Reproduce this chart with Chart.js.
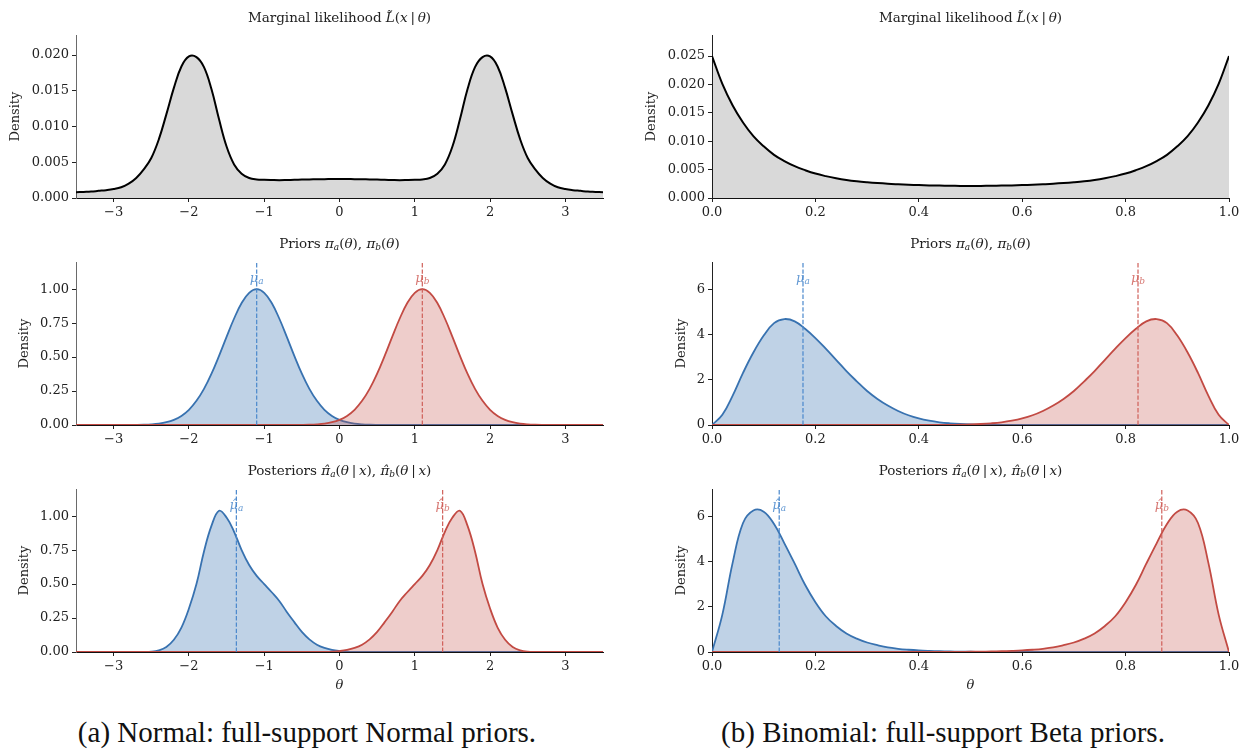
<!DOCTYPE html>
<html lang="en">
<head>
<meta charset="UTF-8">
<title>Marginal likelihood, priors and posteriors</title>
<script src="https://cdn.jsdelivr.net/npm/chart.js"></script>
<style>
  body { margin: 0; background: #fff; }
  #page { position: relative; width: 1250px; height: 750px; font-family: "DejaVu Serif", serif; color: #222; }
  canvas { position: absolute; }
  .ptitle { position: absolute; text-align: center; font-size: 13.5px; line-height: 16px; white-space: nowrap; }
  .ptitle sub { font-size: 9px; font-style: italic; vertical-align: -2px; line-height: 0; }
  .caption { position: absolute; width: 614px; text-align: center; font-family: "Liberation Serif", serif; font-size: 29px; line-height: 32px; color: #111; }
</style>
</head>
<body>
<div id="page">
  <canvas id="nMarg" width="623" height="211" style="left:0px;top:21px"></canvas>
  <canvas id="bMarg" width="619" height="211" style="left:630px;top:21px"></canvas>
  <canvas id="nPrior" width="623" height="211" style="left:0px;top:248px"></canvas>
  <canvas id="bPrior" width="619" height="211" style="left:630px;top:248px"></canvas>
  <canvas id="nPost" width="623" height="227" style="left:0px;top:475px"></canvas>
  <canvas id="bPost" width="619" height="227" style="left:630px;top:475px"></canvas>

  <div class="ptitle" style="left:76px;width:527px;top:9px">Marginal likelihood <i>L&#x303;</i>(<i>x</i>&#8201;|&#8201;<i>θ</i>)</div>
  <div class="ptitle" style="left:712px;width:517px;top:9px">Marginal likelihood <i>L&#x303;</i>(<i>x</i>&#8201;|&#8201;<i>θ</i>)</div>
  <div class="ptitle" style="left:76px;width:527px;top:235px">Priors <i>π</i><sub>a</sub>(<i>θ</i>), <i>π</i><sub>b</sub>(<i>θ</i>)</div>
  <div class="ptitle" style="left:712px;width:517px;top:235px">Priors <i>π</i><sub>a</sub>(<i>θ</i>), <i>π</i><sub>b</sub>(<i>θ</i>)</div>
  <div class="ptitle" style="left:76px;width:527px;top:462px">Posteriors <i>π&#x302;</i><sub>a</sub>(<i>θ</i>&#8201;|&#8201;<i>x</i>), <i>π&#x302;</i><sub>b</sub>(<i>θ</i>&#8201;|&#8201;<i>x</i>)</div>
  <div class="ptitle" style="left:712px;width:517px;top:462px">Posteriors <i>π&#x302;</i><sub>a</sub>(<i>θ</i>&#8201;|&#8201;<i>x</i>), <i>π&#x302;</i><sub>b</sub>(<i>θ</i>&#8201;|&#8201;<i>x</i>)</div>

  <div class="caption" style="left:0px;top:716px">(a) Normal: full-support Normal priors.</div>
  <div class="caption" style="left:636px;top:716px">(b) Binomial: full-support Beta priors.</div>
</div>

<script>
// grids
const thetaNormal = [-3.5,-3.4,-3.3,-3.2,-3.1,-3.0,-2.9,-2.8,-2.7,-2.6,-2.5,-2.4,-2.3,-2.2,-2.1,-2.0,-1.9,-1.8,-1.7,-1.6,
  -1.5,-1.4,-1.3,-1.2,-1.1,-1.0,-0.9,-0.8,-0.7,-0.6,-0.5,-0.4,-0.3,-0.2,-0.1,0.0,0.1,0.2,0.3,0.4,
  0.5,0.6,0.7,0.8,0.9,1.0,1.1,1.2,1.3,1.4,1.5,1.6,1.7,1.8,1.9,2.0,2.1,2.2,2.3,2.4,
  2.5,2.6,2.7,2.8,2.9,3.0,3.1,3.2,3.3,3.4,3.5];
const thetaBinom = [0,0.02,0.04,0.06,0.08,0.1,0.12,0.14,0.16,0.18,0.2,0.22,0.24,0.26,0.28,0.3,0.32,0.34,0.36,0.38,
  0.4,0.42,0.44,0.46,0.48,0.5,0.52,0.54,0.56,0.58,0.6,0.62,0.64,0.66,0.68,0.7,0.72,0.74,0.76,0.78,
  0.8,0.82,0.84,0.86,0.88,0.9,0.92,0.94,0.96,0.98,1.0];

// (a) Normal
const margNormal = [0.0008,0.00085,0.0009,0.001,0.0011,0.00125,0.0015,0.002,0.0028,0.004,
  0.0056,0.0082,0.0117,0.0154,0.0184,0.0198,0.0197,0.0183,0.0152,0.011,
  0.0072,0.0047,0.0034,0.0028,0.0026,0.00255,0.00252,0.0025,0.00252,0.00255,
  0.00258,0.0026,0.00262,0.00264,0.00265,0.00265,0.00265,0.00264,0.00262,0.0026,
  0.00258,0.00255,0.00252,0.0025,0.00252,0.00255,0.0026,0.0028,0.0034,0.0047,
  0.0072,0.011,0.0152,0.0183,0.0197,0.0198,0.0184,0.0154,0.0117,0.0082,
  0.0056,0.004,0.0028,0.002,0.0015,0.00125,0.0011,0.001,0.0009,0.00085,0.0008];
const priorNormalA = [0,0,0,0,0,0,0.0001,0.0004,0.001,0.0023,
  0.005,0.0104,0.0205,0.038,0.067,0.112,0.178,0.266,0.378,0.509,
  0.649,0.784,0.898,0.973,1.0,0.973,0.898,0.784,0.649,0.509,
  0.378,0.266,0.178,0.112,0.067,0.038,0.0205,0.0104,0.005,0.0023,
  0.001,0.0004,0.0001,0,0,0,0,0,0,0,
  0,0,0,0,0,0,0,0,0,0,
  0,0,0,0,0,0,0,0,0,0,0];
const priorNormalB = [0,0,0,0,0,0,0,0,0,0,
  0,0,0,0,0,0,0,0,0,0,
  0,0,0,0,0,0,0,0,0.0001,0.0004,
  0.001,0.0023,0.005,0.0104,0.0205,0.038,0.067,0.112,0.178,0.266,
  0.378,0.509,0.649,0.784,0.898,0.973,1.0,0.973,0.898,0.784,
  0.649,0.509,0.378,0.266,0.178,0.112,0.067,0.038,0.0205,0.0104,
  0.005,0.0023,0.001,0.0004,0.0001,0,0,0,0,0,0];
const postNormalA = [0,0,0,0,0,0,0,0,0.0001,0.0005,
  0.002,0.012,0.037,0.09,0.18,0.32,0.50,0.74,0.93,1.04,
  0.99,0.885,0.75,0.64,0.56,0.50,0.44,0.376,0.295,0.22,
  0.148,0.093,0.054,0.03,0.015,0.007,0.003,0.001,0,0,
  0,0,0,0,0,0,0,0,0,0,
  0,0,0,0,0,0,0,0,0,0,
  0,0,0,0,0,0,0,0,0,0,0];
const postNormalB = [0,0,0,0,0,0,0,0,0,0,
  0,0,0,0,0,0,0,0,0,0,
  0,0,0,0,0,0,0,0,0,0,
  0,0,0,0.001,0.003,0.007,0.015,0.03,0.054,0.093,
  0.148,0.22,0.295,0.376,0.44,0.50,0.56,0.64,0.75,0.885,
  0.99,1.04,0.93,0.74,0.50,0.32,0.18,0.09,0.037,0.012,
  0.002,0.0005,0.0001,0,0,0,0,0,0,0,0];
const muNormal = [-1.1, 1.1];
const muHatNormal = [-1.37, 1.37];

// (b) Binomial
const margBinom = [0.025,0.0201,0.0163,0.0133,0.0109,0.0091,0.0076,0.0065,0.0056,0.0049,
  0.0043,0.00385,0.00348,0.00318,0.00295,0.00277,0.00262,0.0025,0.00241,0.00233,
  0.00227,0.00222,0.00218,0.00215,0.00213,0.00212,0.00213,0.00215,0.00218,0.00222,
  0.00227,0.00233,0.00241,0.0025,0.00262,0.00277,0.00295,0.00318,0.00348,0.00385,
  0.0043,0.0049,0.0056,0.0065,0.0076,0.0091,0.0109,0.0133,0.0163,0.0201,0.025];
const priorBinomA = [0,0.45,1.3,2.3,3.2,3.95,4.5,4.68,4.58,4.25,
  3.84,3.37,2.88,2.38,1.93,1.5,1.15,0.86,0.62,0.43,
  0.29,0.19,0.12,0.075,0.045,0.025,0.013,0.007,0.003,0.001,
  0,0,0,0,0,0,0,0,0,0,
  0,0,0,0,0,0,0,0,0,0,0];
const priorBinomB = [0,0,0,0,0,0,0,0,0,0,
  0,0,0,0,0,0,0,0,0,0,
  0,0.001,0.003,0.007,0.013,0.025,0.045,0.075,0.12,0.19,
  0.29,0.43,0.62,0.86,1.15,1.5,1.93,2.38,2.88,3.37,
  3.84,4.25,4.58,4.68,4.5,3.95,3.2,2.3,1.3,0.45,0];
const postBinomA = [0,1.65,3.95,5.7,6.25,6.2,5.65,4.8,3.9,2.97,
  2.2,1.58,1.15,0.82,0.59,0.42,0.3,0.2,0.14,0.1,
  0.07,0.05,0.035,0.024,0.016,0.01,0.006,0.004,0.002,0.001,
  0,0,0,0,0,0,0,0,0,0,
  0,0,0,0,0,0,0,0,0,0,0];
const postBinomB = [0,0,0,0,0,0,0,0,0,0,
  0,0,0,0,0,0,0,0,0,0,
  0,0.001,0.002,0.004,0.006,0.01,0.016,0.024,0.035,0.05,
  0.07,0.1,0.14,0.2,0.3,0.42,0.59,0.82,1.15,1.58,
  2.2,2.97,3.9,4.8,5.65,6.2,6.25,5.7,3.95,1.65,0];
const muBinom = [0.176, 0.824];
const muHatBinom = [0.13, 0.87];

// ticks
const xTicksNormal = [-3,-2,-1,0,1,2,3];
const xTicksBinom = [0,0.2,0.4,0.6,0.8,1.0];
const yTicksMargNormal = [0,0.005,0.01,0.015,0.02];
const yTicksMargBinom = [0,0.005,0.01,0.015,0.02,0.025];
const yTicksDensNormal = [0,0.25,0.5,0.75,1.0];
const yTicksDensBinom = [0,2,4,6];

const BLUE = '#3872b0';
const RED = '#c24a43';
const BLUE_FILL = 'rgba(56,114,176,0.32)';
const RED_FILL = 'rgba(194,74,67,0.28)';
const BLUE_DASH = '#4a88cc';
const RED_DASH = '#d0605a';

Chart.defaults.font.family = '"DejaVu Serif", serif';
Chart.defaults.color = '#222';

function pts(xs, ys) {
  return xs.map((x, i) => ({x: x, y: ys[i]}));
}

function fmtNum(v, dec) {
  const s = Math.abs(v).toFixed(dec);
  return v < 0 ? '\u2212' + s : s;
}

// draws the mu labels near the top of each dashed mean line
const meanLabels = {
  id: 'meanLabels',
  beforeDatasetsDraw(chart) {
    const ctx = chart.ctx;
    const xs = chart.scales.x, ys = chart.scales.y;
    chart.data.datasets.forEach(ds => {
      if (!ds.meanLabel) return;
      const px = xs.getPixelForValue(ds.data[0].x);
      const py = ys.getPixelForValue(ys.max * 0.9);
      const main = ds.meanLabel.hat ? '\u03bc\u0302' : '\u03bc';
      ctx.save();
      ctx.fillStyle = ds.borderColor;
      ctx.globalAlpha = 0.85;
      ctx.textBaseline = 'middle';
      ctx.font = 'italic 13px "DejaVu Serif"';
      const w1 = ctx.measureText(main).width;
      ctx.font = 'italic 9px "DejaVu Serif"';
      const w2 = ctx.measureText(ds.meanLabel.sub).width;
      const left = px - (w1 + w2) / 2;
      ctx.font = 'italic 13px "DejaVu Serif"';
      ctx.fillText(main, left, py);
      ctx.font = 'italic 9px "DejaVu Serif"';
      ctx.fillText(ds.meanLabel.sub, left + w1, py + 3);
      ctx.restore();
    });
  }
};

function meanLine(mu, ymax, color, hat, sub) {
  return {
    data: [{x: mu, y: 0}, {x: mu, y: ymax}],
    borderColor: color, borderWidth: 1.2, borderDash: [4.4, 1.9],
    fill: false, pointRadius: 0, tension: 0,
    meanLabel: {hat: hat, sub: sub}
  };
}

function curve(xs, ys, color, fillColor, width) {
  return {
    data: pts(xs, ys),
    borderColor: color, borderWidth: width || 1.8,
    backgroundColor: fillColor, fill: 'origin',
    pointRadius: 0, tension: 0.4
  };
}

function panel(id, p) {
  new Chart(document.getElementById(id), {
    type: 'line',
    data: {datasets: p.datasets},
    plugins: [meanLabels],
    options: {
      responsive: false,
      animation: false,
      devicePixelRatio: 1,
      layout: {padding: {top: 14, right: 20, left: 0, bottom: 0}},
      plugins: {legend: {display: false}, tooltip: {enabled: false}},
      scales: {
        x: {
          type: 'linear', min: p.xmin, max: p.xmax,
          afterBuildTicks: s => { s.ticks = p.xTicks.map(v => ({value: v})); },
          afterFit: s => { s.height = p.xH; },
          grid: {display: true, drawOnChartArea: false, drawTicks: true, tickLength: 4, tickColor: '#222'},
          border: {display: true, color: '#111', width: 1},
          ticks: {font: {size: 13}, color: '#222', padding: 3, maxRotation: 0, autoSkip: false,
                  callback: v => fmtNum(v, p.xDec)},
          title: {display: !!p.xTitle, text: 'θ', font: {size: 13, style: 'italic'}, color: '#222',
                  padding: {top: 0, bottom: 9}}
        },
        y: {
          type: 'linear', min: 0, max: p.ymax,
          afterBuildTicks: s => { s.ticks = p.yTicks.map(v => ({value: v})); },
          afterFit: s => { s.width = p.yW; },
          grid: {display: true, drawOnChartArea: false, drawTicks: true, tickLength: 4, tickColor: '#222'},
          border: {display: true, color: p.spine, width: 1},
          ticks: {font: {size: 13}, color: '#222', padding: 3, autoSkip: false,
                  callback: v => fmtNum(v, p.yDec)},
          title: {display: true, text: 'Density', font: {size: 13}, color: '#222',
                  padding: {top: p.yTitlePad, bottom: 0}}
        }
      }
    }
  });
}

const leftCol = {xmin: -3.5, xmax: 3.5, xTicks: xTicksNormal, xDec: 0, yW: 76, spine: '#6a6a6a'};
const rightCol = {xmin: 0, xmax: 1, xTicks: xTicksBinom, xDec: 1, yW: 82, spine: '#222'};

panel('nMarg', Object.assign({}, leftCol, {
  ymax: 0.0228, yTicks: yTicksMargNormal, yDec: 3, xH: 34, yTitlePad: 8,
  datasets: [curve(thetaNormal, margNormal, '#000', 'rgba(0,0,0,0.15)', 2)]
}));
panel('bMarg', Object.assign({}, rightCol, {
  ymax: 0.0287, yTicks: yTicksMargBinom, yDec: 3, xH: 34, yTitlePad: 14,
  datasets: [curve(thetaBinom, margBinom, '#000', 'rgba(0,0,0,0.15)', 2)]
}));
panel('nPrior', Object.assign({}, leftCol, {
  ymax: 1.2, yTicks: yTicksDensNormal, yDec: 2, xH: 34, yTitlePad: 17,
  datasets: [
    meanLine(muNormal[0], 1.2, BLUE_DASH, false, 'a'),
    meanLine(muNormal[1], 1.2, RED_DASH, false, 'b'),
    curve(thetaNormal, priorNormalB, RED, RED_FILL),
    curve(thetaNormal, priorNormalA, BLUE, BLUE_FILL)
  ]
}));
panel('bPrior', Object.assign({}, rightCol, {
  ymax: 7.2, yTicks: yTicksDensBinom, yDec: 0, xH: 34, yTitlePad: 44,
  datasets: [
    meanLine(muBinom[0], 7.2, BLUE_DASH, false, 'a'),
    meanLine(muBinom[1], 7.2, RED_DASH, false, 'b'),
    curve(thetaBinom, priorBinomB, RED, RED_FILL),
    curve(thetaBinom, priorBinomA, BLUE, BLUE_FILL)
  ]
}));
panel('nPost', Object.assign({}, leftCol, {
  ymax: 1.2, yTicks: yTicksDensNormal, yDec: 2, xH: 50, xTitle: true, yTitlePad: 17,
  datasets: [
    meanLine(muHatNormal[0], 1.2, BLUE_DASH, true, 'a'),
    meanLine(muHatNormal[1], 1.2, RED_DASH, true, 'b'),
    curve(thetaNormal, postNormalB, RED, RED_FILL),
    curve(thetaNormal, postNormalA, BLUE, BLUE_FILL)
  ]
}));
panel('bPost', Object.assign({}, rightCol, {
  ymax: 7.2, yTicks: yTicksDensBinom, yDec: 0, xH: 50, xTitle: true, yTitlePad: 44,
  datasets: [
    meanLine(muHatBinom[0], 7.2, BLUE_DASH, true, 'a'),
    meanLine(muHatBinom[1], 7.2, RED_DASH, true, 'b'),
    curve(thetaBinom, postBinomB, RED, RED_FILL),
    curve(thetaBinom, postBinomA, BLUE, BLUE_FILL)
  ]
}));
</script>
</body>
</html>
